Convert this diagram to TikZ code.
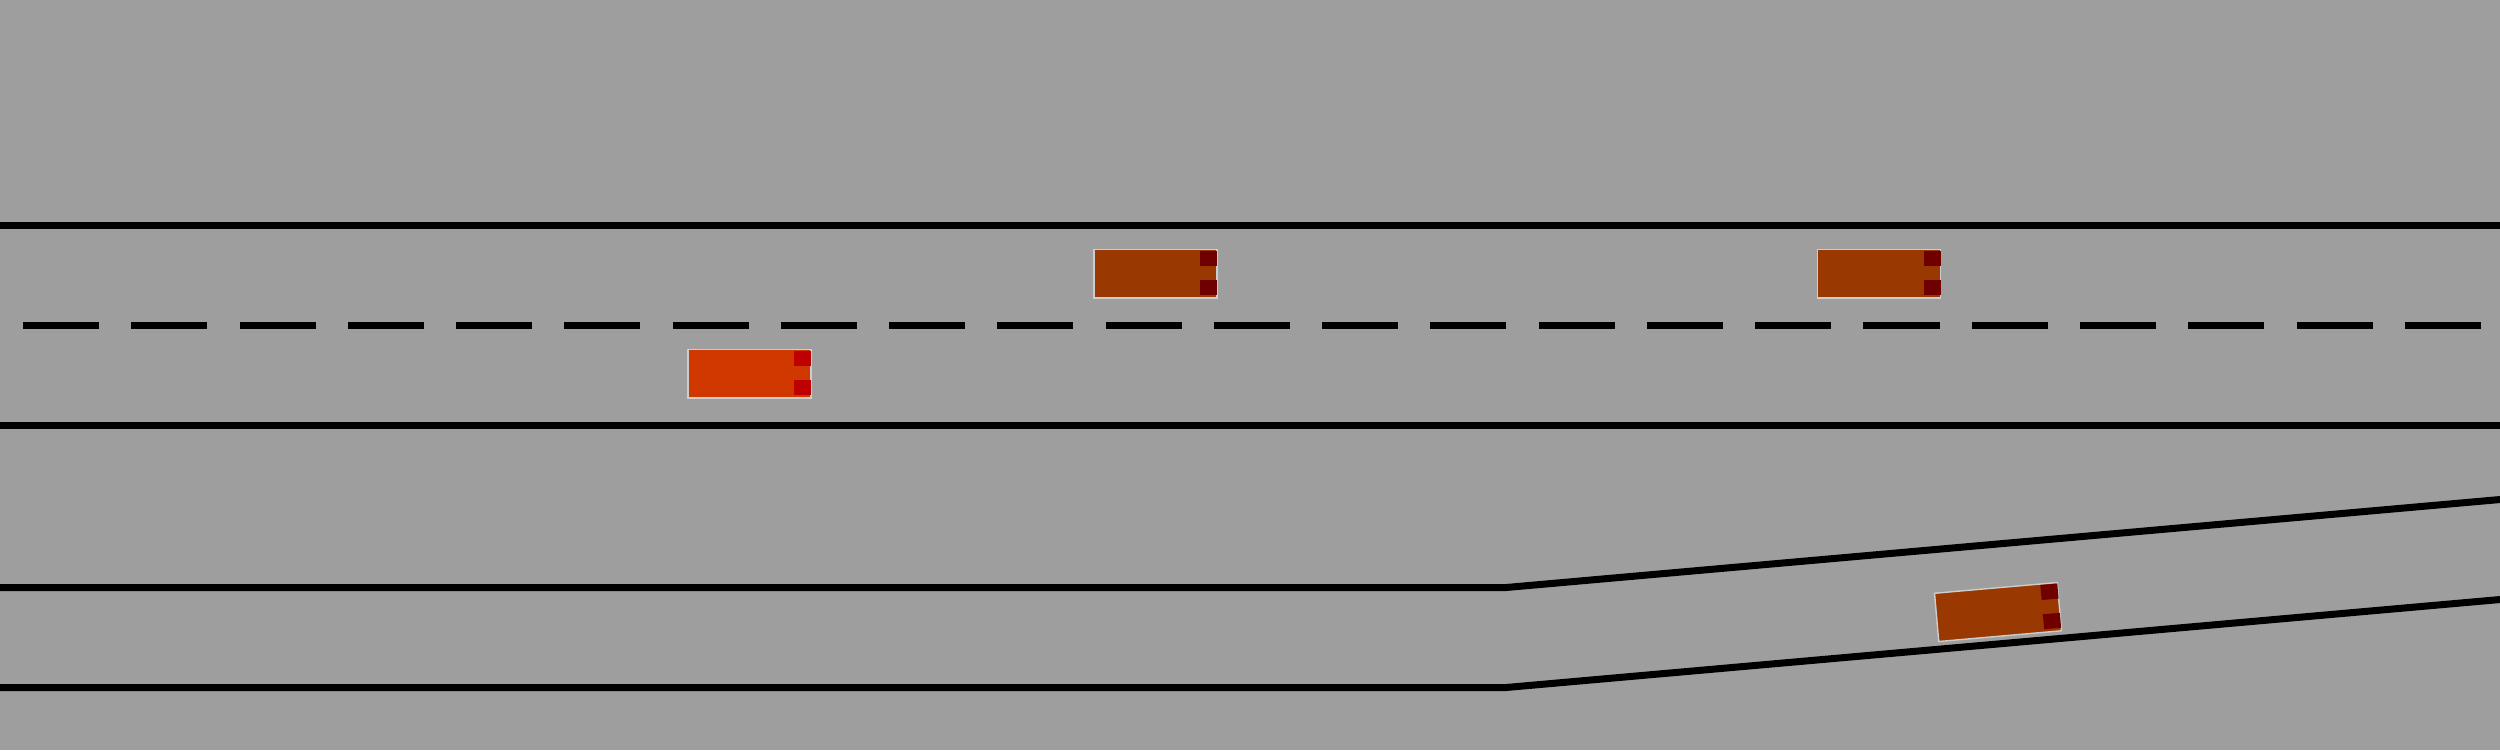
\documentclass[tikz,border=0pt]{standalone}
\usepackage{tikz}
\definecolor{roadgray}{RGB}{158,158,158}
\definecolor{carred}{RGB}{208,56,0}
\definecolor{lampred}{RGB}{190,0,0}
\definecolor{carbrown}{RGB}{153,56,0}
\definecolor{lampbrown}{RGB}{112,0,0}
\definecolor{carborder}{RGB}{205,205,205}
\tikzset{
  roadline/.style={draw=black, line width=0.07cm},
  laneline/.style={roadline, dash pattern=on 0.76cm off 0.322cm},
  pics/car/.style 2 args={code={
    \path[draw=carborder, line width=0.014cm, fill=#1] (-61.6,-24.2) rectangle (61.6,24.2);
    \fill[#2] (44.5,-23.15) rectangle (61.5,-8.15);
    \fill[#2] (44.5,6.15) rectangle (61.5,21.15);
  }}
}
\begin{document}
\begin{tikzpicture}[x=0.01cm, y=-0.01cm]
  \fill[roadgray] (0,0) rectangle (2500,750);
  \useasboundingbox (0,0) rectangle (2500,750);
  \begin{scope}
    \clip (0,0) rectangle (2500,750);
    % main road edges
    \coordinate (topL) at (0,225.5);
    \coordinate (topR) at (2500,225.5);
    \draw[roadline] (topL) -- (topR);
    \coordinate (midL) at (0,425.5);
    \coordinate (midR) at (2500,425.5);
    \draw[roadline] (midL) -- (midR);
    % centre dashed line
    \coordinate (dashL) at (23,325.5);
    \coordinate (dashR) at (2481,325.5);
    \draw[laneline] (dashL) -- (dashR);
    % side road
    \coordinate (s1L) at (0,587.5);
    \coordinate (s1B) at (1506,587.5);
    \coordinate (s1R) at (2500,499.5);
    \draw[roadline] (s1L) -- (s1B) -- (s1R);
    \coordinate (s2L) at (0,687.5);
    \coordinate (s2B) at (1506,687.5);
    \coordinate (s2R) at (2500,599.5);
    \draw[roadline] (s2L) -- (s2B) -- (s2R);
    % cars
    \pic at (749.5,373.85) {car={carred}{lampred}};
    \pic at (1155.5,273.85) {car={carbrown}{lampbrown}};
    \pic at (1879,273.85) {car={carbrown}{lampbrown}};
    \pic[rotate=5] at (1998,612) {car={carbrown}{lampbrown}};
  \end{scope}
\end{tikzpicture}
\end{document}
